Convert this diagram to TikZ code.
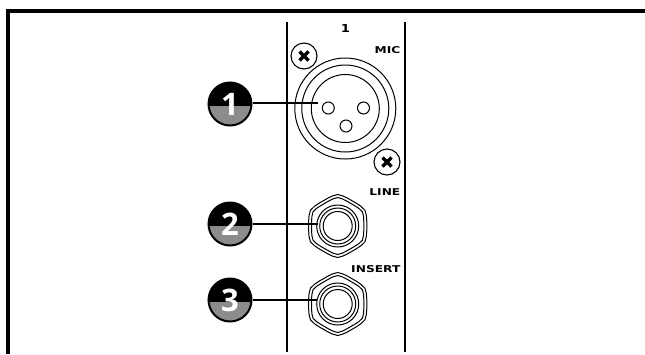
\documentclass[tikz,border=0pt]{standalone}
\usepackage{fontspec}
\setmainfont{Open Sans}
\newfontfamily\panelfont{DejaVu Sans}
\tikzset{
  x=1pt,y=-1pt,
  ring/.style={draw=black,line width=1pt,fill=none},
  panelline/.style={draw=black,line width=2pt},
  frameline/.style={draw=black,line width=4pt},
  leader/.style={draw=black,line width=1.2pt},
  screwx/.style={draw=black,line width=3.2pt},
  screwhead/.style={draw=black,line width=1.1pt,fill=white},
  pin/.style={draw=black,line width=1pt,fill=white},
  badge/.style n args={1}{circle,draw=black,line width=2pt,minimum size=43pt,inner sep=0pt,
    text=white,font=\fontsize{31}{31}\selectfont\bfseries,
    path picture={
      \fill[black] (path picture bounding box.north west) rectangle ([yshift=-#1]path picture bounding box.east);
      \fill[badgegray] ([yshift=-#1]path picture bounding box.west) rectangle (path picture bounding box.south east);
    }},
  paneltext/.style={inner sep=0pt,anchor=east,xscale=1.3,text depth=0pt,font=\panelfont\fontsize{9.4}{9.4}\selectfont\bfseries},
}
\definecolor{badgegray}{gray}{0.55}
\newcommand{\nutshape}[3]{% x y flat radius
  \pgfmathsetmacro{\ra}{#3+1}
  \pgfmathsetmacro{\rb}{#3+2}
  \draw[ring,shift={(#1,#2)}] (-10:#3)
    \foreach \k in {0,60,...,300} { -- ({\k-10}:#3) -- ({\k+10}:#3) -- ({\k+20}:\ra) -- ({\k+30}:\rb) -- ({\k+40}:\ra) } -- cycle;
}
\newcommand{\jackat}[2]{%
  \nutshape{#1}{#2}{29.5}
  \nutshape{#1}{#2}{26.5}
  \draw[ring] (#1,#2) circle[radius=21];
  \draw[ring] (#1,#2) circle[radius=18];
  \draw[ring] (#1,#2) circle[radius=14.5];
}
\newcommand{\screwat}[2]{%
  \draw[screwhead] (#1,#2) circle[radius=13];
  \draw[screwx] (#1-4.5,#2-4.5) -- (#1+4.5,#2+4.5);
  \draw[screwx] (#1-4.5,#2+4.5) -- (#1+4.5,#2-4.5);
}
\begin{document}
\begin{tikzpicture}
\useasboundingbox (0,0) rectangle (645,354);
% frame
\coordinate (frameBL) at (8,354);
\coordinate (frameTL) at (8,11);
\coordinate (frameTR) at (645,11);
\draw[frameline] (frameBL) -- (frameTL) -- (frameTR);
% panel edges
\coordinate (pla) at (287.3,22); \coordinate (plb) at (287.3,352);
\coordinate (pra) at (405,22);   \coordinate (prb) at (405,352);
\draw[panelline] (pla) -- (plb);
\draw[panelline] (pra) -- (prb);
% XLR
\draw[ring] (345.3,108.5) circle[radius=50.5];
\draw[ring] (345.3,108.5) circle[radius=43.5];
\draw[ring] (345.3,108.5) circle[radius=34];
\draw[pin] (328.3,108) circle[radius=6];
\draw[pin] (363.5,108) circle[radius=6];
\draw[pin] (346,126) circle[radius=6];
\screwat{304}{56}
\screwat{387}{162}
% jacks
\jackat{337.7}{226}
\jackat{337.7}{304}
% labels
\node[inner sep=0pt,font=\panelfont\fontsize{11}{11}\selectfont\bfseries,xscale=1.2] (chan) at (345.5,28.5) {1};
\node[paneltext] (mic) at (400.6,50) {MIC};
\node[paneltext] (line) at (400.6,192) {LINE};
\node[paneltext] (insert) at (400.6,269) {INSERT};
% badges
\node[badge=2pt] (b1) at (230,104) {1};
\node[badge=2pt] (b2) at (230,224) {2};
\node[badge=2pt] (b3) at (230,300) {3};
% leaders
\coordinate (e1) at (318,103);
\coordinate (e2) at (318.3,224);
\coordinate (e3) at (316.7,300);
\draw[leader] (b1.east |- e1) -- (e1);
\draw[leader] (b2.east |- e2) -- (e2);
\draw[leader] (b3.east |- e3) -- (e3);
\end{tikzpicture}
\end{document}
